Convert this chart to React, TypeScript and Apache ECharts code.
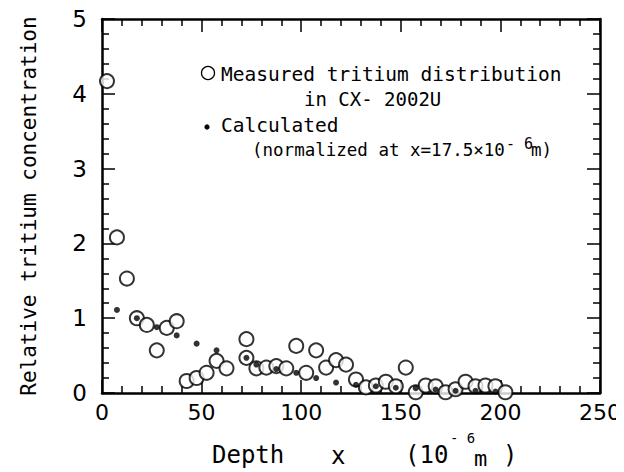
import React, { useEffect, useRef } from "react";
import * as echarts from "echarts";

const measuredX = [2.5, 7.5, 12.5, 17.5, 22.5, 27.5, 32.5, 37.5, 42.5, 47.5, 52.5, 57.5, 62.5, 72.5, 72.5, 77.5, 82.5, 87.5, 92.5, 97.5, 102.5, 107.5, 112.5, 117.5, 122.5, 127.5, 132.5, 137.5, 142.5, 147.5, 152.5, 157.5, 162.5, 167.5, 172.5, 177.5, 182.5, 187.5, 192.5, 197.5, 202.5];
const measuredY = [4.17, 2.08, 1.53, 1.0, 0.91, 0.57, 0.87, 0.96, 0.16, 0.2, 0.27, 0.43, 0.33, 0.72, 0.47, 0.33, 0.34, 0.36, 0.33, 0.63, 0.27, 0.57, 0.34, 0.44, 0.38, 0.18, 0.075, 0.1, 0.15, 0.09, 0.34, 0.01, 0.1, 0.09, 0.01, 0.05, 0.15, 0.09, 0.1, 0.09, 0.01];
const calcX = [7.5, 17.5, 27.5, 37.5, 47.5, 57.5, 72.5, 77.5, 87.5, 97.5, 107.5, 117.5, 127.5, 137.5, 147.5, 157.5, 167.5, 177.5, 187.5, 197.5];
const calcY = [1.11, 1.0, 0.88, 0.77, 0.66, 0.57, 0.47, 0.38, 0.32, 0.27, 0.2, 0.14, 0.11, 0.09, 0.07, 0.065, 0.045, 0.03, 0.03, 0.02];
const xTicks = [0, 50, 100, 150, 200, 250];
const yTicks = [0, 1, 2, 3, 4, 5];

const SANS = "DejaVu Sans";
const MONO = "DejaVu Sans Mono";

const mkLine = () => ({ show: true, onZero: false, lineStyle: { color: "#000", width: 2.5 } });
const mkTick = () => ({ show: true, inside: true, length: 13, lineStyle: { color: "#000", width: 1.5 } });
const mkMinor = () => ({ show: true, splitNumber: 5, length: 7, lineStyle: { color: "#000", width: 1.5 } });

export default function App() {
  const ref = useRef<HTMLDivElement>(null);
  useEffect(() => {
    const chart = echarts.init(ref.current!, null, { renderer: "svg" });
    const txt = (text: string, x: number, y: number, size: number) => ({
      type: "text", x, y, style: { text, fontSize: size, fontFamily: MONO, fill: "#000", verticalAlign: "middle" },
    });
    const option: any = {
      animation: false,
      backgroundColor: "#fff",
      grid: { left: 102, right: 24, top: 19, bottom: 79 },
      xAxis: [
        {
          type: "value", min: xTicks[0], max: xTicks[xTicks.length - 1], interval: 50,
          axisLine: mkLine(), axisTick: mkTick(), minorTick: mkMinor(), splitLine: { show: false },
          axisLabel: { color: "#000", fontSize: 22, fontFamily: SANS, margin: 8 },
        },
        {
          type: "value", position: "top", min: 0, max: 250, interval: 50,
          axisLine: mkLine(), axisTick: mkTick(), minorTick: mkMinor(), splitLine: { show: false },
          axisLabel: { show: false },
        },
      ],
      yAxis: [
        {
          type: "value", min: yTicks[0], max: yTicks[yTicks.length - 1], interval: 1,
          axisLine: mkLine(), axisTick: mkTick(), minorTick: mkMinor(), splitLine: { show: false },
          axisLabel: { color: "#000", fontSize: 23, fontFamily: SANS, margin: 15 },
          name: "Relative tritium concentration",
          nameLocation: "middle", nameGap: 63, nameRotate: 90,
          nameTextStyle: { color: "#000", fontSize: 21, fontFamily: MONO },
        },
        {
          type: "value", position: "right", min: 0, max: 5, interval: 1,
          axisLine: mkLine(), axisTick: mkTick(), minorTick: mkMinor(), splitLine: { show: false },
          axisLabel: { show: false },
        },
      ],
      series: [
        {
          type: "scatter", name: "Measured",
          data: measuredX.map((x, i) => [x, measuredY[i]]),
          symbol: "emptyCircle", symbolSize: 14,
          itemStyle: { color: "#000", borderColor: "#000", borderWidth: 1.4 },
          z: 3,
        },
        {
          type: "scatter", name: "Calculated",
          data: calcX.map((x, i) => [x, calcY[i]]),
          symbol: "circle", symbolSize: 6,
          itemStyle: { color: "#000" },
          z: 4,
        },
      ],
      graphic: [
        { type: "circle", shape: { cx: 208, cy: 73, r: 6.5 }, style: { fill: "#fff", stroke: "#000", lineWidth: 1.3 } },
        txt("Measured tritium distribution", 221, 74, 19.5),
        txt("in CX- 2002U", 304, 99, 19),
        { type: "circle", shape: { cx: 207, cy: 127, r: 2.6 }, style: { fill: "#000" } },
        txt("Calculated", 221, 125, 19.5),
        txt("(normalized at x=17.5×10", 252, 150, 17.5),
        txt("- 6", 506, 144, 15),
        txt("m)", 531, 150, 17.5),
        txt("Depth", 212, 455, 24),
        txt("x", 331, 456, 24),
        txt("(10", 405, 455, 24),
        txt("- 6", 450, 438, 14),
        txt("m", 474, 458, 22),
        txt(")", 503, 455, 24),
      ],
    };
    chart.setOption(option);
    return () => chart.dispose();
  }, []);
  return <div ref={ref} style={{ width: 624, height: 472, marginLeft: -8, marginTop: -8 }} />;
}
